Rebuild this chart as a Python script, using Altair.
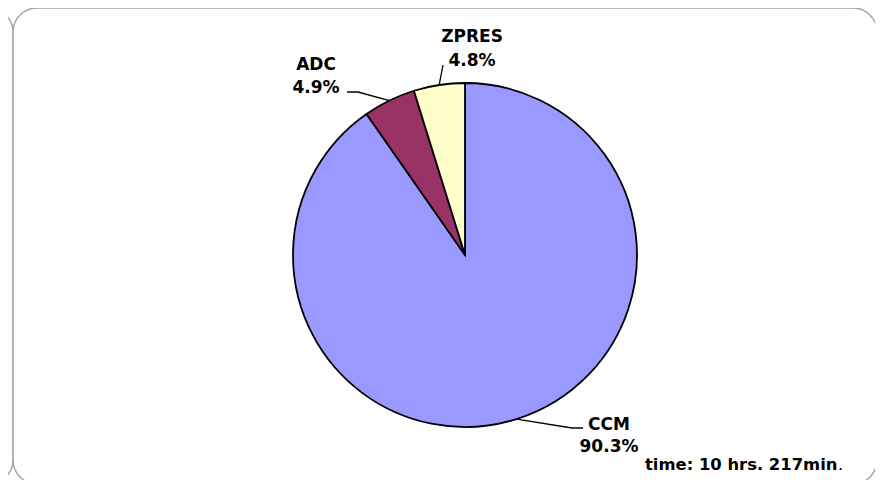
import altair as alt
import pandas as pd
import numpy as np

# ---- data ----
categories = ["CCM", "ADC", "ZPRES"]
values = [90.3, 4.9, 4.8]
colors = ["#9999FF", "#993366", "#FFFFCC"]
time_note = "time: 10 hrs. 217min"

# ---- layout (chart pixel coordinates) ----
W, H = 867, 472
CX, CY, R = 457, 247, 172
FONT = "DejaVu Sans"
label_pos = {            # x centre, baseline of first line, baseline of second line
    "CCM": (601, 422, 444),
    "ADC": (308, 62, 85),
    "ZPRES": (464, 34, 58),
}
leader_tail = {           # elbow / end points of each leader line
    "CCM": [(564, 420), (575, 420)],
    "ADC": [(350, 84), (339, 84)],
    "ZPRES": [(435, 57)],
}

pie_df = pd.DataFrame({"cat": categories, "value": values, "idx": range(len(categories))})

# leader lines start on the rim at each slice's mid angle
total = sum(values)
cum = np.cumsum([0] + values)
rows = []
for i, c in enumerate(categories):
    mid = (cum[i] + values[i] / 2) / total * 2 * np.pi
    pts = [(CX + R * np.sin(mid), CY - R * np.cos(mid))] + leader_tail[c]
    for k, (px, py) in enumerate(pts):
        rows.append({"cat": c, "seq": k, "px": px, "py": py})
lead_df = pd.DataFrame(rows)

lab_rows = []
for c, v in zip(categories, values):
    x0, y1, y2 = label_pos[c]
    lab_rows.append({"txt": c, "px": x0, "py": y1})
    lab_rows.append({"txt": f"{v:.1f}%", "px": x0, "py": y2})
lab_df = pd.DataFrame(lab_rows)

note_df = pd.DataFrame({"txt": [time_note, "."], "px": [637, 830], "py": [462, 462]})

pxs = alt.X("px:Q", scale=None, axis=None)
pys = alt.Y("py:Q", scale=None, axis=None)

# frames
frame_left = alt.Chart(pd.DataFrame({"a": [0]})).mark_rect(
    fill="white", stroke="#A6A6A6", strokeWidth=1.5, cornerRadius=24
).encode(x=alt.value(-600), x2=alt.value(5), y=alt.value(0), y2=alt.value(476))

frame = alt.Chart(pd.DataFrame({"a": [0]})).mark_rect(
    fill="white", stroke="#A6A6A6", strokeWidth=1.5, cornerRadius=24
).encode(x=alt.value(5), x2=alt.value(869), y=alt.value(0), y2=alt.value(476))

pie = alt.Chart(pie_df).mark_arc(
    outerRadius=R, stroke="black", strokeWidth=1.8
).encode(
    theta=alt.Theta("value:Q", stack=True),
    color=alt.Color("cat:N", scale=alt.Scale(domain=categories, range=colors), legend=None),
    order=alt.Order("idx:Q"),
    x=alt.value(CX), y=alt.value(CY),
)

leaders = alt.Chart(lead_df).mark_line(color="black", strokeWidth=1.3).encode(
    x=pxs, y=pys, detail="cat:N", order="seq:Q"
)

labels = alt.Chart(lab_df).mark_text(
    font=FONT, fontSize=17, fontWeight="bold", align="center", baseline="alphabetic", color="black"
).encode(x=pxs, y=pys, text="txt:N")

note_bold = alt.Chart(note_df.iloc[[0]]).mark_text(
    font=FONT, fontSize=16.4, fontWeight="bold", align="left", baseline="alphabetic", color="black"
).encode(x=pxs, y=pys, text="txt:N")
note_dot = alt.Chart(note_df.iloc[[1]]).mark_text(
    font=FONT, fontSize=16.4, fontWeight="normal", align="left", baseline="alphabetic", color="black"
).encode(x=pxs, y=pys, text="txt:N")

chart = alt.layer(frame_left, frame, pie, leaders, labels, note_bold, note_dot).properties(
    width=W, height=H, padding=0, autosize=alt.AutoSizeParams(type="none"), background="white"
).configure_view(stroke=None)

chart.save("out.html", embed_options={"renderer": "svg", "actions": False})
